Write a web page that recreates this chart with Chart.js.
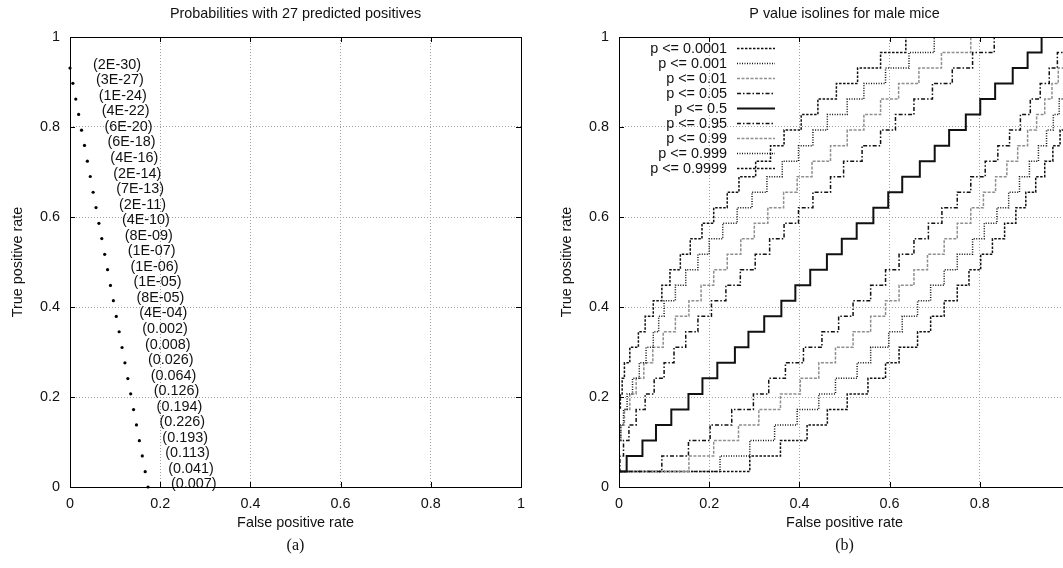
<!DOCTYPE html>
<html><head><meta charset="utf-8">
<script src="https://cdn.jsdelivr.net/npm/chart.js@4.4.1/dist/chart.umd.min.js"></script>
<style>
html,body{margin:0;padding:0;background:#fff;overflow:hidden;width:1063px;height:568px;}
#wrap{position:relative;width:1063px;height:568px;overflow:hidden;background:#fff;}
canvas{position:absolute;top:0;}
#c1{left:0px}
#c2{left:545px}
</style></head><body><div id="wrap">
<canvas id="c1" width="545" height="568"></canvas>
<canvas id="c2" width="560" height="568"></canvas>
</div>
<script>
const FONT = '"Liberation Sans", Arial, Helvetica, sans-serif';
const SERIF = '"Liberation Serif", "Times New Roman", serif';
const tickValues = [0, 0.2, 0.4, 0.6, 0.8, 1];
const tickLabels = ['0', '0.2', '0.4', '0.6', '0.8', '1'];

// ---------- Panel (a) ----------
const titleA = 'Probabilities with 27 predicted positives';
const fprA = [0, 0.0064, 0.0128, 0.0192, 0.0256, 0.0321, 0.0385, 0.0449, 0.0513, 0.0577, 0.0641, 0.0705, 0.0769, 0.0833, 0.0897, 0.0962, 0.1026, 0.1090, 0.1154, 0.1218, 0.1282, 0.1346, 0.1410, 0.1474, 0.1538, 0.1603, 0.1667, 0.1731];
const tprA = [0.931, 0.897, 0.862, 0.828, 0.793, 0.759, 0.724, 0.690, 0.655, 0.621, 0.586, 0.552, 0.517, 0.483, 0.448, 0.414, 0.379, 0.345, 0.310, 0.276, 0.241, 0.207, 0.172, 0.138, 0.103, 0.069, 0.034, 0];
const probLabels = ['(2E-30)', '(3E-27)', '(1E-24)', '(4E-22)', '(6E-20)', '(6E-18)', '(4E-16)', '(2E-14)', '(7E-13)', '(2E-11)', '(4E-10)', '(8E-09)', '(1E-07)', '(1E-06)', '(1E-05)', '(8E-05)', '(4E-04)', '(0.002)', '(0.008)', '(0.026)', '(0.064)', '(0.126)', '(0.194)', '(0.226)', '(0.193)', '(0.113)', '(0.041)', '(0.007)'];

// ---------- Panel (b) ----------
const titleB = 'P value isolines for male mice';
// true positive rate levels k/29, k = 1..29
const tprLevels = [0.0345, 0.0690, 0.1034, 0.1379, 0.1724, 0.2069, 0.2414, 0.2759, 0.3103, 0.3448, 0.3793, 0.4138, 0.4483, 0.4828, 0.5172, 0.5517, 0.5862, 0.6207, 0.6552, 0.6897, 0.7241, 0.7586, 0.7931, 0.8276, 0.8621, 0.8966, 0.9310, 0.9655, 1.0];
const isoLabels = ['p <= 0.0001', 'p <= 0.001', 'p <= 0.01', 'p <= 0.05', 'p <= 0.5', 'p <= 0.95', 'p <= 0.99', 'p <= 0.999', 'p <= 0.9999'];
// false positive rate at which each isoline steps up to level k (k = 2..29)
const iso0001 = [0, 0, 0, 0, 0.003, 0.007, 0.012, 0.024, 0.043, 0.058, 0.076, 0.095, 0.113, 0.136, 0.158, 0.184, 0.210, 0.240, 0.266, 0.303, 0.336, 0.366, 0.404, 0.441, 0.482, 0.529, 0.580, 0.636];
const iso001 = [0, 0, 0.004, 0.010, 0.018, 0.030, 0.045, 0.060, 0.076, 0.088, 0.100, 0.125, 0.148, 0.175, 0.200, 0.230, 0.262, 0.295, 0.328, 0.362, 0.398, 0.430, 0.462, 0.506, 0.543, 0.591, 0.643, 0.699];
const iso01 = [0, 0, 0.004, 0.012, 0.024, 0.038, 0.055, 0.075, 0.098, 0.125, 0.155, 0.182, 0.210, 0.240, 0.270, 0.300, 0.330, 0.365, 0.395, 0.428, 0.469, 0.506, 0.543, 0.580, 0.620, 0.665, 0.715, 0.780];
const iso05 = [0.002, 0.010, 0.022, 0.038, 0.058, 0.078, 0.100, 0.122, 0.148, 0.175, 0.205, 0.237, 0.269, 0.302, 0.334, 0.366, 0.398, 0.430, 0.469, 0.498, 0.539, 0.580, 0.613, 0.654, 0.695, 0.739, 0.784, 0.832];
const iso5 = [0.017, 0.052, 0.082, 0.116, 0.154, 0.185, 0.218, 0.257, 0.287, 0.322, 0.360, 0.391, 0.424, 0.461, 0.494, 0.527, 0.564, 0.597, 0.628, 0.667, 0.700, 0.732, 0.769, 0.801, 0.834, 0.873, 0.906, 0.937];
const iso95 = [0.095, 0.154, 0.202, 0.250, 0.298, 0.332, 0.369, 0.409, 0.450, 0.487, 0.519, 0.558, 0.591, 0.621, 0.654, 0.686, 0.716, 0.750, 0.780, 0.812, 0.840, 0.866, 0.890, 0.912, 0.934, 0.954, 0.972, 0.990];
const iso99 = [0.155, 0.210, 0.265, 0.310, 0.358, 0.402, 0.443, 0.480, 0.519, 0.558, 0.591, 0.621, 0.654, 0.684, 0.721, 0.750, 0.780, 0.808, 0.835, 0.860, 0.884, 0.906, 0.926, 0.944, 0.960, 0.974, 0.986, 0.996];
const iso999 = [0.224, 0.290, 0.345, 0.395, 0.443, 0.480, 0.528, 0.558, 0.598, 0.628, 0.662, 0.691, 0.721, 0.750, 0.784, 0.810, 0.838, 0.864, 0.888, 0.910, 0.930, 0.948, 0.963, 0.976, 0.986, 0.993, 0.997, 1.0];
const iso9999 = [0.290, 0.358, 0.417, 0.462, 0.506, 0.552, 0.591, 0.621, 0.662, 0.691, 0.721, 0.750, 0.776, 0.802, 0.828, 0.855, 0.880, 0.902, 0.924, 0.944, 0.962, 0.978, 0.991, 0.995, 0.997, 0.998, 0.999, 1.0];

const isoSeries = [iso0001, iso001, iso01, iso05, iso5, iso95, iso99, iso999, iso9999];
const BLACK = '#111111', GRAY = '#8f8f8f';
const isoStyles = [
  {c: BLACK, w: 1.5, d: [2.5, 1.5]},
  {c: BLACK, w: 1.5, d: [1, 1.5]},
  {c: GRAY, w: 1.5, d: [3, 1.5]},
  {c: BLACK, w: 1.5, d: [4, 2, 1.5, 2]},
  {c: BLACK, w: 2, d: []},
  {c: BLACK, w: 1.5, d: [4, 2, 1.5, 2]},
  {c: GRAY, w: 1.5, d: [3, 1.5]},
  {c: BLACK, w: 1.5, d: [1, 1.5]},
  {c: BLACK, w: 1.5, d: [2.5, 1.5]}
];

function stepPoints(risers) {
  const pts = [{x: 0, y: tprLevels[0]}];
  risers.forEach((x, i) => pts.push({x: x, y: tprLevels[i + 1]}));
  pts.push({x: 1, y: 1});
  return pts;
}

function axisOpts(isX, fixedSize, pad) {
  return {
    type: 'linear', min: 0, max: 1,
    position: isX ? 'bottom' : 'left',
    afterBuildTicks: s => { s.ticks = tickValues.map(v => ({value: v})); },
    afterFit: s => { if (isX) s.height = fixedSize; else s.width = fixedSize; },
    ticks: {
      autoSkip: false, maxRotation: 0, padding: pad,
      color: '#111', font: {family: FONT, size: 14.4},
      callback: (v, i) => tickLabels[i]
    },
    grid: {
      drawTicks: false,
      color: c => (c.tick && (c.tick.value === 0 || c.tick.value === 1)) ? 'rgba(0,0,0,0)' : '#a0a0a0',
      lineWidth: 1
    },
    border: {display: false, dash: [1, 2]}
  };
}

function framePlugin(title, ylabelX, letter) {
  return {
    id: 'frame' + letter,
    afterDraw(chart) {
      const ctx = chart.ctx, ca = chart.chartArea;
      const cx = (ca.left + ca.right) / 2;
      ctx.save();
      ctx.strokeStyle = '#000';
      ctx.lineWidth = 1;
      ctx.setLineDash([]);
      ctx.strokeRect(Math.round(ca.left) + 0.5, Math.round(ca.top) + 0.5, Math.round(ca.right - ca.left), Math.round(ca.bottom - ca.top));
      const xs = chart.scales.x, ys = chart.scales.y;
      ctx.beginPath();
      tickValues.forEach(v => {
        const px = Math.round(xs.getPixelForValue(v)) + 0.5;
        ctx.moveTo(px, ca.bottom); ctx.lineTo(px, ca.bottom - 5);
        ctx.moveTo(px, ca.top); ctx.lineTo(px, ca.top + 5);
        const py = Math.round(ys.getPixelForValue(v)) + 0.5;
        ctx.moveTo(ca.left, py); ctx.lineTo(ca.left + 5, py);
        ctx.moveTo(ca.right, py); ctx.lineTo(ca.right - 5, py);
      });
      ctx.stroke();
      ctx.fillStyle = '#111';
      ctx.font = '14.4px ' + FONT;
      ctx.textAlign = 'center';
      ctx.textBaseline = 'middle';
      ctx.fillText(title, cx, 14);
      ctx.fillText('False positive rate', cx, 523);
      ctx.save();
      ctx.translate(ylabelX, (ca.top + ca.bottom) / 2);
      ctx.rotate(-Math.PI / 2);
      ctx.fillText('True positive rate', 0, 0);
      ctx.restore();
      ctx.font = '16px ' + SERIF;
      ctx.fillText(letter, cx, 546);
      ctx.restore();
    }
  };
}

const labelPlugin = {
  id: 'probLabels',
  afterDatasetsDraw(chart) {
    const ctx = chart.ctx;
    const meta = chart.getDatasetMeta(0);
    ctx.save();
    ctx.fillStyle = '#111';
    ctx.font = '14.4px ' + FONT;
    ctx.textAlign = 'left';
    ctx.textBaseline = 'alphabetic';
    meta.data.forEach((el, i) => {
      ctx.fillText(probLabels[i], el.x + 23, el.y + 1);
    });
    ctx.restore();
  }
};

new Chart(document.getElementById('c1'), {
  type: 'scatter',
  data: {
    datasets: [{
      data: fprA.map((x, i) => ({x: x, y: tprA[i]})),
      pointRadius: 1.6, pointBorderWidth: 0,
      pointBackgroundColor: '#000', clip: false
    }]
  },
  options: {
    responsive: false, animation: false, devicePixelRatio: 1,
    layout: {padding: {left: 0, top: 37, right: 24, bottom: 0}},
    plugins: {legend: {display: false}, tooltip: {enabled: false}, title: {display: false}},
    scales: {x: axisOpts(true, 81, 8), y: axisOpts(false, 70, 10)}
  },
  plugins: [labelPlugin, framePlugin(titleA, 18, '(a)')]
});

const legendPlugin = {
  id: 'isoLegend',
  afterDraw(chart) {
    const ctx = chart.ctx;
    ctx.save();
    ctx.font = '14.4px ' + FONT;
    ctx.textAlign = 'right';
    ctx.textBaseline = 'middle';
    chart.data.datasets.forEach((ds, i) => {
      const y = 48.5 + 15 * i;
      ctx.fillStyle = '#111';
      ctx.fillText(ds.label, 182, y + 1);
      ctx.strokeStyle = ds.borderColor;
      ctx.lineWidth = ds.borderWidth;
      ctx.setLineDash(ds.borderDash);
      ctx.beginPath();
      ctx.moveTo(192, y); ctx.lineTo(230, y);
      ctx.stroke();
    });
    ctx.restore();
  }
};

new Chart(document.getElementById('c2'), {
  type: 'line',
  data: {
    datasets: isoSeries.map((r, i) => ({
      label: isoLabels[i],
      data: stepPoints(r),
      stepped: true,
      borderColor: isoStyles[i].c,
      borderWidth: isoStyles[i].w,
      borderDash: isoStyles[i].d,
      pointRadius: 0, fill: false, tension: 0
    }))
  },
  options: {
    responsive: false, animation: false, devicePixelRatio: 1,
    layout: {padding: {left: 0, top: 37, right: 35, bottom: 0}},
    plugins: {legend: {display: false}, tooltip: {enabled: false}, title: {display: false}},
    scales: {x: axisOpts(true, 81, 8), y: axisOpts(false, 74, 10)}
  },
  plugins: [legendPlugin, framePlugin(titleB, 22, '(b)')]
});
</script>
</body></html>
